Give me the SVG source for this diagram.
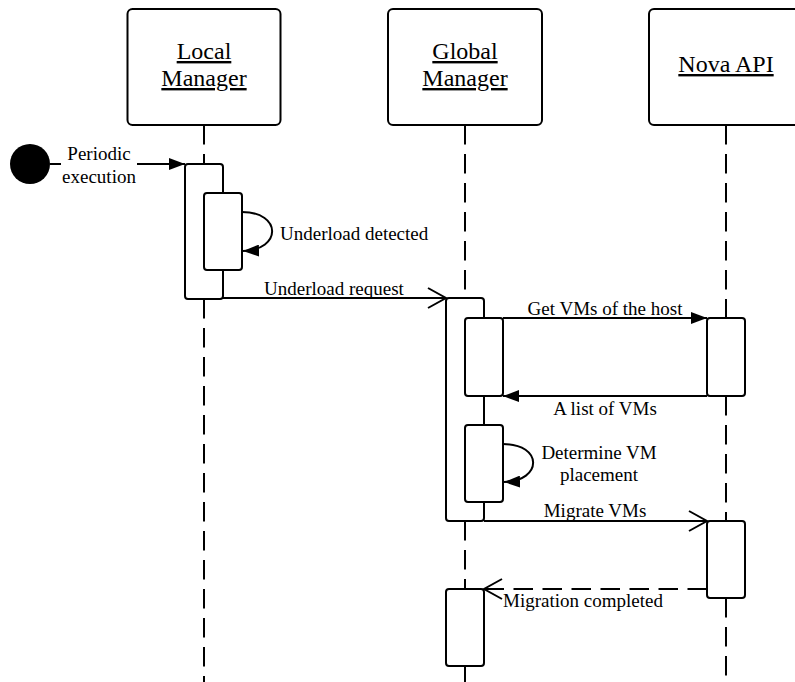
<svg xmlns="http://www.w3.org/2000/svg" width="795" height="682" viewBox="0 0 795 682">
<style>
.box{fill:#fff;stroke:#000;stroke-width:2}
.act{fill:#fff;stroke:#000;stroke-width:2}
.life{stroke:#000;stroke-width:2;stroke-dasharray:19.5 9.5;fill:none}
.msg{stroke:#000;stroke-width:2;fill:none}
.dash{stroke-dasharray:19.5 9.5}
.title{font-family:"Liberation Serif",serif;font-size:24px;text-anchor:middle;text-decoration:underline;fill:#000}
.lbl{font-family:"Liberation Serif",serif;font-size:19px;fill:#000}
.mid{text-anchor:middle}
</style>
<defs>
<marker id="filled" markerUnits="userSpaceOnUse" viewBox="0 0 16 12" refX="16" refY="6" markerWidth="16" markerHeight="12" orient="auto">
<path d="M0,0 L16,6 L0,12 z" fill="#000"/>
</marker>
<marker id="open" markerUnits="userSpaceOnUse" viewBox="-2 -2 22 24" refX="18" refY="10" markerWidth="22" markerHeight="24" orient="auto">
<path d="M0,0 L18,10 L0,20" fill="none" stroke="#000" stroke-width="2"/>
</marker>
</defs>
<rect width="795" height="682" fill="#fff"/>

<g id="lifelines">
<line class="life" x1="204" y1="125" x2="204" y2="164"/>
<line class="life" x1="204" y1="299" x2="204" y2="682"/>
<line class="life" x1="465" y1="125" x2="465" y2="298"/>
<line class="life" x1="465" y1="521" x2="465" y2="589"/>
<line class="life" x1="465" y1="666" x2="465" y2="682"/>
<line class="life" x1="726" y1="125" x2="726" y2="318"/>
<line class="life" x1="726" y1="396" x2="726" y2="521"/>
<line class="life" x1="726" y1="598" x2="726" y2="682"/>
</g>

<g id="local-manager">
<rect class="box" x="127.5" y="9" width="153" height="116" rx="5"/>
<text class="title" x="204" y="59">Local</text>
<text class="title" x="204" y="86">Manager</text>
</g>
<g id="global-manager">
<rect class="box" x="388" y="9" width="154" height="116" rx="5"/>
<text class="title" x="465" y="59">Global</text>
<text class="title" x="465" y="86">Manager</text>
</g>
<g id="nova-api">
<rect class="box" x="649" y="9" width="154" height="116" rx="5"/>
<text class="title" x="726" y="72">Nova API</text>
</g>

<g id="start">
<circle cx="30" cy="164" r="20" fill="#000"/>
</g>

<g id="local-activations">
<rect class="act" x="185" y="164" width="38" height="135" rx="3"/>
<rect class="act" x="204" y="193" width="38" height="77" rx="3"/>
</g>
<g id="global-activations">
<rect class="act" x="446" y="298" width="38" height="223" rx="3"/>
<rect class="act" x="465" y="318" width="38" height="78" rx="3"/>
<rect class="act" x="465" y="425" width="38" height="77" rx="3"/>
<rect class="act" x="446" y="589" width="38" height="77" rx="3"/>
</g>
<g id="nova-activations">
<rect class="act" x="707" y="318" width="38" height="78" rx="3"/>
<rect class="act" x="707" y="521" width="38" height="77" rx="3"/>
</g>

<g id="connectors">
<line class="msg" x1="50" y1="164" x2="185" y2="164" marker-end="url(#filled)"/>
<rect x="61" y="144" width="76" height="46" fill="#fff"/>
<text class="lbl mid" x="99" y="160">Periodic</text>
<text class="lbl mid" x="99" y="183">execution</text>

<path class="msg" d="M242,212 C282,212 282,250 243,251" marker-end="url(#filled)"/>
<text class="lbl" x="280" y="240">Underload detected</text>

<line class="msg" x1="223" y1="298" x2="446" y2="298" marker-end="url(#open)"/>
<text class="lbl mid" x="334" y="295">Underload request</text>

<line class="msg" x1="503" y1="318" x2="707" y2="318" marker-end="url(#filled)"/>
<text class="lbl mid" x="605" y="315">Get VMs of the host</text>

<line class="msg" x1="707" y1="396" x2="503" y2="396" marker-end="url(#filled)"/>
<text class="lbl mid" x="605" y="415">A list of VMs</text>

<path class="msg" d="M503,444 C543,444 543,481 504,482" marker-end="url(#filled)"/>
<text class="lbl mid" x="599" y="459">Determine VM</text>
<text class="lbl mid" x="599" y="481">placement</text>

<line class="msg" x1="484" y1="521" x2="707" y2="521" marker-end="url(#open)"/>
<text class="lbl mid" x="595" y="517">Migrate VMs</text>

<line class="msg dash" x1="707" y1="589" x2="484" y2="589" marker-end="url(#open)"/>
<text class="lbl" x="503" y="607">Migration completed</text>
</g>
</svg>
